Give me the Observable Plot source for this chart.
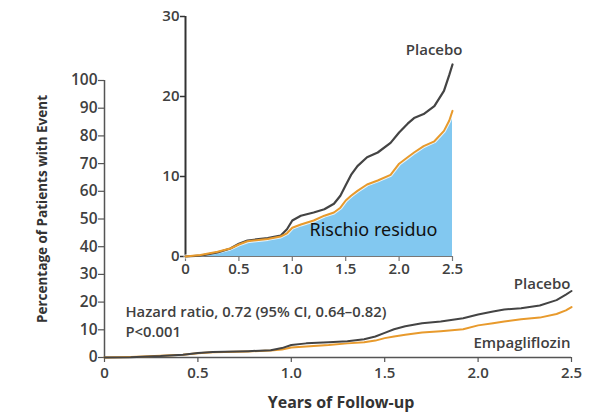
<!DOCTYPE html>
<html>
<head>
<meta charset="utf-8">
<script src="https://cdn.jsdelivr.net/npm/d3@7"></script>
<script src="https://cdn.jsdelivr.net/npm/@observablehq/plot@0.6"></script>
<style>
  html, body { margin: 0; padding: 0; background: #fff; }
  #wrap { position: relative; width: 595px; height: 413px; overflow: hidden; }
  #wrap svg { position: absolute; left: 0; top: 0; }
</style>
</head>
<body>
<div id="wrap"></div>
<script>
// Years of follow-up
const years = [0, 0.14, 0.3, 0.42, 0.5, 0.58, 0.77, 0.89, 0.95, 1.0, 1.08, 1.2, 1.3, 1.39, 1.45, 1.5, 1.55, 1.61, 1.7, 1.8, 1.92, 2.0, 2.08, 2.14, 2.23, 2.33, 2.42, 2.47, 2.5];
// Cumulative percentage of patients with event
const placebo = [0, 0.1, 0.5, 1.0, 1.6, 2.0, 2.3, 2.6, 3.4, 4.5, 5.1, 5.5, 5.9, 6.6, 7.6, 8.9, 10.2, 11.3, 12.4, 13.0, 14.2, 15.5, 16.6, 17.3, 17.8, 18.8, 20.7, 22.7, 24.0];
const empagliflozin = [0, 0.2, 0.6, 1.0, 1.5, 1.9, 2.2, 2.5, 2.9, 3.6, 4.0, 4.5, 5.1, 5.5, 6.1, 7.0, 7.6, 8.2, 9.0, 9.5, 10.2, 11.6, 12.4, 13.0, 13.8, 14.4, 15.7, 17.0, 18.2];

const xTicks = [0, 0.5, 1.0, 1.5, 2.0, 2.5];
const yTicksMain = [0, 10, 20, 30, 40, 50, 60, 70, 80, 90, 100];
const yTicksInset = [0, 10, 20, 30];

const seriesNames = ["Placebo", "Empagliflozin"];
const hazardText = "Hazard ratio, 0.72 (95% CI, 0.64\u20130.82)";
const pText = "P<0.001";
const insetLabel = "Rischio residuo";
const xTitle = "Years of Follow-up";
const yTitle = "Percentage of Patients with Event";

const rows = years.map((t, i) => ({t, placebo: placebo[i], empa: empagliflozin[i]}));
const lastRow = [rows[rows.length - 1]];

const fmtX = d => d === 0 ? "0" : d.toFixed(1);
const FONT = "'Open Sans', 'Noto Sans', sans-serif";
const DARK = "#444";
const ORANGE = "#e89a2c";
const AXIS = "#555";
const TXT = "#404040";

const main = Plot.plot({
  width: 595, height: 413,
  marginLeft: 104, marginRight: 24, marginTop: 80, marginBottom: 56,
  x: {domain: [0, 2.5]},
  y: {domain: [0, 100]},
  style: {fontFamily: FONT, fontSize: "14px", color: TXT, background: "transparent", overflow: "visible"},
  marks: [
    Plot.ruleX([0], {y1: 0, y2: 100, stroke: AXIS, strokeWidth: 1.5}),
    Plot.ruleY([0], {stroke: AXIS, strokeWidth: 1.5}),
    Plot.axisY({ticks: yTicksMain, tickSize: 6, tickPadding: 1, label: null, stroke: AXIS, strokeWidth: 1.2, fontSize: 15.5, fontWeight: 600, fill: TXT}),
    Plot.axisX({ticks: xTicks, tickFormat: fmtX, tickSize: 5, tickPadding: 5, label: null, stroke: AXIS, strokeWidth: 1.2, fontSize: 15, fontWeight: 600, fill: TXT}),
    Plot.line(rows, {x: "t", y: "empa", stroke: ORANGE, strokeWidth: 2}),
    Plot.line(rows, {x: "t", y: "placebo", stroke: DARK, strokeWidth: 2}),
    Plot.text(lastRow, {x: "t", y: "placebo", text: () => seriesNames[0], textAnchor: "end", dx: -1, dy: -7, fontSize: 15, fontWeight: 600, fill: TXT}),
    Plot.text(lastRow, {x: "t", y: "empa", text: () => seriesNames[1], textAnchor: "end", dx: -1, dy: 36, fontSize: 15, fontWeight: 600, fill: TXT}),
    Plot.text([hazardText], {frameAnchor: "bottom-left", textAnchor: "start", lineAnchor: "middle", dx: 21, dy: -45, fontSize: 14.8, fontWeight: 600, fill: TXT}),
    Plot.text([pText], {frameAnchor: "bottom-left", textAnchor: "start", lineAnchor: "middle", dx: 21, dy: -25, fontSize: 14.8, fontWeight: 600, fill: TXT}),
    Plot.text([xTitle], {frameAnchor: "bottom", lineAnchor: "middle", dy: 45, dx: 3, fontSize: 16, fontWeight: "bold", fill: "#333"}),
    Plot.text([yTitle], {frameAnchor: "left", textAnchor: "middle", lineAnchor: "middle", rotate: -90, dx: -62, dy: -10, fontSize: 13.5, fontWeight: "bold", fill: "#333"})
  ]
});

const inset = Plot.plot({
  width: 595, height: 413,
  marginLeft: 185, marginRight: 143, marginTop: 16, marginBottom: 157,
  x: {domain: [0, 2.5]},
  y: {domain: [0, 30]},
  style: {fontFamily: FONT, fontSize: "14px", color: TXT, background: "transparent", overflow: "visible"},
  marks: [
    Plot.areaY(rows, {x: "t", y: "empa", fill: "#82c8f0"}),
    Plot.ruleY([0], {stroke: "#777", strokeWidth: 1.2}),
    Plot.ruleX([0], {y1: 0, y2: 30, stroke: "#333", strokeWidth: 2}),
    Plot.axisY({ticks: yTicksInset, tickSize: 5, tickPadding: 1, label: null, stroke: "#333", strokeWidth: 1.5, fontSize: 15, fontWeight: 600, fill: TXT}),
    Plot.axisX({ticks: xTicks, tickFormat: fmtX, tickSize: 5, tickPadding: 2, label: null, stroke: "#777", strokeWidth: 1.2, fontSize: 15, fontWeight: 600, fill: TXT}),
    Plot.line(rows, {x: "t", y: "empa", stroke: "#fff", strokeWidth: 4, strokeOpacity: 0.8}),
    Plot.line(rows, {x: "t", y: "placebo", stroke: DARK, strokeWidth: 2.2}),
    Plot.line(rows, {x: "t", y: "empa", stroke: ORANGE, strokeWidth: 2}),
    Plot.text(lastRow, {x: "t", y: "placebo", text: () => seriesNames[0], textAnchor: "end", dx: 10, dy: -14, fontSize: 15, fontWeight: 600, fill: TXT}),
    Plot.text([insetLabel], {frameAnchor: "bottom-right", textAnchor: "end", lineAnchor: "middle", dx: -15, dy: -26, fontSize: 18, fill: "#111", fontFamily: "'Noto Sans', sans-serif"})
  ]
});

const wrap = document.getElementById("wrap");
wrap.appendChild(main);
wrap.appendChild(inset);
</script>
</body>
</html>
